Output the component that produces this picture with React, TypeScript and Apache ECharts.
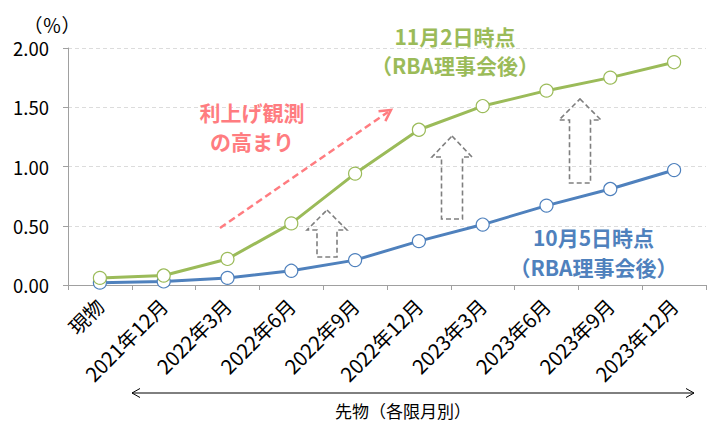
import React, { useEffect, useRef } from "react";
import * as echarts from "echarts";

const categories = [
  "現物",
  "2021年12月",
  "2022年3月",
  "2022年6月",
  "2022年9月",
  "2022年12月",
  "2023年3月",
  "2023年6月",
  "2023年9月",
  "2023年12月",
];
const nov2Values = [0.06, 0.08, 0.22, 0.52, 0.94, 1.31, 1.51, 1.64, 1.75, 1.88];
const oct5Values = [0.02, 0.03, 0.06, 0.12, 0.21, 0.37, 0.51, 0.67, 0.81, 0.97];
const yTicks = [0, 0.5, 1.0, 1.5, 2.0];

const FONT = "'Noto Sans CJK JP', 'Noto Sans', sans-serif";
const GREEN = "#9bbb59";
const BLUE = "#4f81bd";
const RED = "#ff7c80";
const GRAY = "#7f7f7f";

function txt(text: string, x: number, y: number, fill: string, size: number, weight = "bold", lineHeight?: number) {
  return {
    type: "text",
    x,
    y,
    z: 100,
    style: {
      text,
      fill,
      font: `${weight} ${size}px ${FONT}`,
      align: "center",
      verticalAlign: "middle",
      lineHeight: lineHeight || size,
    },
  };
}

function blockArrow(cx: number, top: number, headBase: number, bottom: number, headHalf: number, shaftHalf: number) {
  return {
    type: "polygon",
    z: 50,
    shape: {
      points: [
        [cx, top],
        [cx + headHalf, headBase],
        [cx + shaftHalf, headBase],
        [cx + shaftHalf, bottom],
        [cx - shaftHalf, bottom],
        [cx - shaftHalf, headBase],
        [cx - headHalf, headBase],
      ],
    },
    style: { fill: "none", stroke: GRAY, lineWidth: 1.6, lineDash: [5, 3] },
  };
}

function arrowHead(tx: number, ty: number, fx: number, fy: number, len: number, half: number, color: string, lw: number) {
  const dx = tx - fx;
  const dy = ty - fy;
  const l = Math.sqrt(dx * dx + dy * dy);
  const ux = dx / l;
  const uy = dy / l;
  const nx = -uy;
  const ny = ux;
  const bx = tx - ux * len;
  const by = ty - uy * len;
  return {
    type: "polyline",
    z: 60,
    shape: {
      points: [
        [bx + nx * half, by + ny * half],
        [tx, ty],
        [bx - nx * half, by - ny * half],
      ],
    },
    style: { fill: "none", stroke: color, lineWidth: lw },
  };
}

export default function App() {
  const ref = useRef<HTMLDivElement>(null);
  useEffect(() => {
    if (!ref.current) return;
    const chart = echarts.init(ref.current, undefined, { renderer: "svg" });
    chart.setOption({
      animation: false,
      backgroundColor: "#ffffff",
      grid: { left: 68, right: 9, top: 48, bottom: 136, containLabel: false },
      xAxis: {
        type: "category",
        data: categories,
        boundaryGap: true,
        axisLine: { lineStyle: { color: "#a0a0a0", width: 1 } },
        axisTick: { show: true, length: 5, lineStyle: { color: "#a0a0a0" } },
        axisLabel: {
          rotate: 45,
          fontSize: 20,
          color: "#000000",
          fontFamily: FONT,
          margin: 17,
          interval: 0,
        },
      },
      yAxis: {
        type: "value",
        min: yTicks[0],
        max: yTicks[yTicks.length - 1],
        interval: 0.5,
        axisLine: { show: true, lineStyle: { color: "#a0a0a0", width: 1 } },
        axisTick: { show: true, length: 5, lineStyle: { color: "#a0a0a0" } },
        axisLabel: {
          fontSize: 18.5,
          color: "#000000",
          fontFamily: FONT,
          margin: 19,
          formatter: (v: number) => v.toFixed(2),
        },
        splitLine: { show: true, lineStyle: { color: "#dcdcdc", type: [4, 3], width: 1 } },
      },
      series: [
        {
          name: "10月5日時点（RBA理事会後）",
          type: "line",
          data: oct5Values,
          symbol: "circle",
          symbolSize: 13,
          showAllSymbol: true,
          lineStyle: { color: BLUE, width: 3 },
          itemStyle: { color: "#ffffff", borderColor: BLUE, borderWidth: 1.2 },
          z: 3,
        },
        {
          name: "11月2日時点（RBA理事会後）",
          type: "line",
          data: nov2Values,
          symbol: "circle",
          symbolSize: 13,
          showAllSymbol: true,
          lineStyle: { color: GREEN, width: 3 },
          itemStyle: { color: "#ffffff", borderColor: GREEN, borderWidth: 1.2 },
          z: 4,
        },
      ],
      graphic: [
        txt("（％）", 52, 24, "#000000", 19, "normal"),
        txt("11月2日時点\n（RBA理事会後）", 455, 50.5, GREEN, 21, "bold", 29),
        txt("10月5日時点\n（RBA理事会後）", 593.5, 252, BLUE, 21, "bold", 30),
        txt("利上げ観測\nの高まり", 252, 126.5, RED, 21, "bold", 29),
        {
          type: "line",
          z: 60,
          shape: { x1: 220, y1: 228, x2: 388, y2: 112 },
          style: { stroke: RED, lineWidth: 2.5, lineDash: [7, 4] },
        },
        arrowHead(391, 110, 220, 228, 11, 6, RED, 2.5),
        blockArrow(327, 210, 230, 257, 20, 10),
        blockArrow(452, 136, 157, 219, 20, 10.5),
        blockArrow(580, 99, 120, 183, 21, 10.5),
        {
          type: "line",
          z: 60,
          shape: { x1: 132, y1: 393, x2: 694, y2: 393 },
          style: { stroke: "#000000", lineWidth: 1 },
        },
        arrowHead(132, 393, 694, 393, 8, 4.5, "#000000", 1),
        arrowHead(694, 393, 132, 393, 8, 4.5, "#000000", 1),
        txt("先物（各限月別）", 403, 410, "#000000", 17, "normal"),
      ],
    });
    return () => chart.dispose();
  }, []);
  return (
    <div
      ref={ref}
      style={{ position: "fixed", left: 0, top: 0, width: 715, height: 421, background: "#fff" }}
    />
  );
}
